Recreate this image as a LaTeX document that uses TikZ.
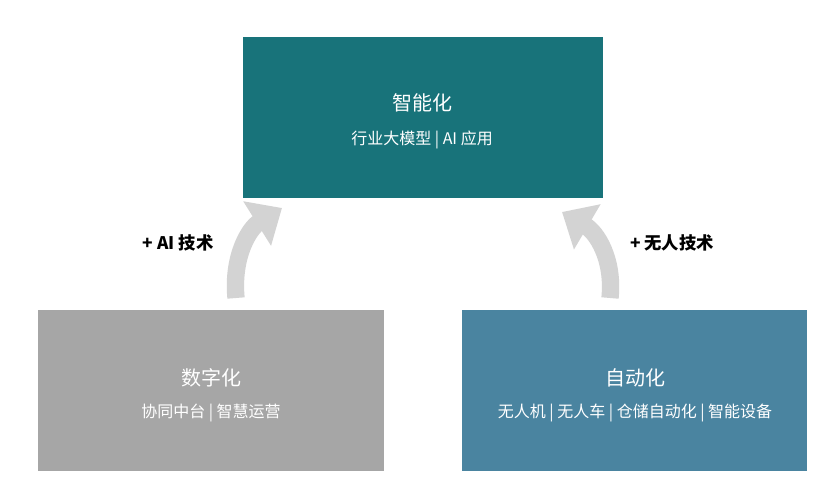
\documentclass[tikz,border=0pt]{standalone}
\usepackage{fontspec}
\setmainfont{Noto Sans CJK SC}
\usetikzlibrary{arrows.meta}
\definecolor{teal1}{HTML}{18737A}
\definecolor{gray1}{HTML}{A6A6A6}
\definecolor{blue1}{HTML}{4A84A0}
\definecolor{arr}{HTML}{D3D3D3}
\tikzset{
 box/.style={draw=none,minimum width=258.75pt,minimum height=120.75pt,anchor=north west,inner sep=0pt},
 ttl/.style={text=white,font=\fontsize{15}{18}\selectfont},
 sub/.style={text=white,font=\fontsize{12}{14}\selectfont},
 lbl/.style={text=black,font=\fontsize{13}{15}\selectfont\bfseries},
 bigarrow/.style={arr,line width=13pt,-{Triangle[width=38pt,length=22pt]}}
}
\begin{document}
\begin{tikzpicture}[x=0.75pt,y=-0.75pt]
\useasboundingbox (0,0) rectangle (830,491);
\node[box,fill=teal1,minimum width=270pt] (top) at (243,37) {};
\node[box,fill=gray1,minimum width=259.5pt] (left) at (38,310) {};
\node[box,fill=blue1,minimum width=258.75pt] (right) at (462,310) {};
\node[ttl] (t1) at (422,103) {智能化};
\node[sub] (s1) at (422,140) {行业大模型 | AI 应用};
\node[ttl] (t2) at (211,378) {数字化};
\node[sub] (s2) at (211,413) {协同中台 | 智慧运营};
\node[ttl] (t3) at (635,378) {自动化};
\node[sub] (s3) at (635,413) {无人机 | 无人车 | 仓储自动化 | 智能设备};
\coordinate (a1s) at (236,298);
\coordinate (a1e) at (282,208);
\coordinate (a2s) at (610,298);
\coordinate (a2e) at (562,212);
\draw[bigarrow] (a1s) .. controls (232,255) and (250,228) .. (a1e);
\draw[bigarrow] (a2s) .. controls (614,258) and (596,232) .. (a2e);
\node[lbl] (l1) at (178,243) {+ AI 技术};
\node[lbl] (l2) at (672,243) {+ 无人技术};
\end{tikzpicture}
\end{document}
